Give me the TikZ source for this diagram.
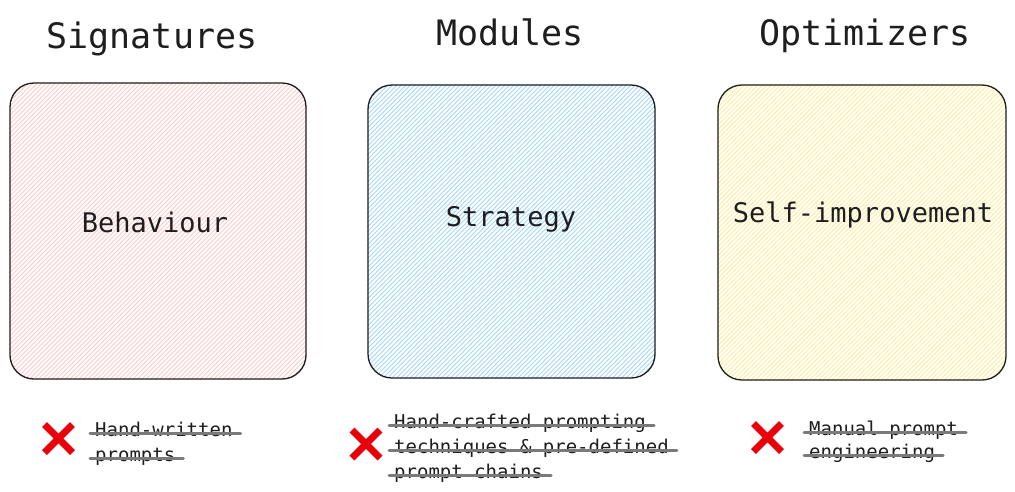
\documentclass[tikz,border=0pt]{standalone}
\usepackage{fontspec}
\setmonofont{DejaVu Sans Mono}
\usepackage{tikz}
\usetikzlibrary{positioning, calc, backgrounds}
\definecolor{ink}{HTML}{1E1E1E}
\definecolor{rosefill}{HTML}{FFC9C9}
\definecolor{skyfill}{HTML}{A5D8FF}
\definecolor{sandfill}{HTML}{FFEC99}
\definecolor{nope}{HTML}{E8000B}
\definecolor{strikegray}{HTML}{7A7A7A}
\tikzset{
  card/.style={rounded corners=24pt, draw=ink, line width=1.3pt, inner sep=0pt},
  hatch/.style={line width=0.8pt},
  head/.style={font=\ttfamily\fontsize{35}{40}\selectfont, text=ink,
               anchor=base, inner sep=0pt},
  tag/.style={font=\ttfamily\fontsize{27}{32}\selectfont, text=ink,
              anchor=base, inner sep=0pt},
  note/.style={font=\ttfamily\fontsize{19}{25}\selectfont, text=ink,
               anchor=base west, inner sep=0pt},
  nopeline/.style={line width=7pt, draw=nope},
  strk/.style={line width=3pt, draw=strikegray, line cap=round},
  nopemark/.pic={\draw[nopeline] (-14,-14) -- (14,14) (-14,14) -- (14,-14);},
}

\begin{document}
\begin{tikzpicture}[x=1pt, y=-1pt]
  \useasboundingbox (0,0) rectangle (1015,491);

  % column titles
  \node[head] (tsig) at (152,48) {Signatures};
  \node[head] (tmod) at (510,45) {Modules};
  \node[head] (topt) at (865,45) {Optimizers};

  % the three cards
  \node[card, minimum width=296pt, minimum height=296pt] (sig) at (158,231) {};
  \node[card, minimum width=287pt, minimum height=293pt] (mod) at (511.5,231.5) {};
  \node[card, minimum width=288pt, minimum height=295pt] (opt) at (862,232.5) {};

  % hand-drawn hatching behind them
  \begin{scope}[on background layer]
    \foreach \c/\col in {sig/rosefill, mod/skyfill, opt/sandfill} {
      \begin{scope}
        \clip[rounded corners=24pt] (\c.south west) rectangle (\c.north east);
        \foreach \k in {-300,-295.5,...,300}
          \draw[hatch, \col] ($(\c.south west)+(\k,0)$) -- ++(300,-300);
      \end{scope}
    }
  \end{scope}

  \node[tag] (lsig) at (155,232) {Behaviour};
  \node[tag] (lmod) at (511,226) {Strategy};
  \node[tag] (lopt) at (863,222) {Self-improvement};

  % what each one replaces
  \pic at (58.5,438.5) {nopemark};
  \node[note] (n1a) at (95,436) {Hand-written};
  \node[note] (n1b) at ([yshift=-25pt]n1a.base west) {prompts};

  \pic at (366,444) {nopemark};
  \node[note] (n2a) at (394,428) {Hand-crafted prompting};
  \node[note] (n2b) at ([yshift=-25pt]n2a.base west) {techniques \& pre-defined};
  \node[note] (n2c) at ([yshift=-25pt]n2b.base west) {prompt chains};

  \pic at (767.5,437.5) {nopemark};
  \node[note] (n3a) at (809,435) {Manual prompt};
  \node[note] (n3b) at ([yshift=-23pt]n3a.base west) {engineering};

  \foreach \n in {n1a,n1b,n2a,n2b,n2c,n3a,n3b}
    \draw[strk] ([xshift=-5pt]\n.mid west) -- ([xshift=8pt]\n.mid east);
\end{tikzpicture}
\end{document}
